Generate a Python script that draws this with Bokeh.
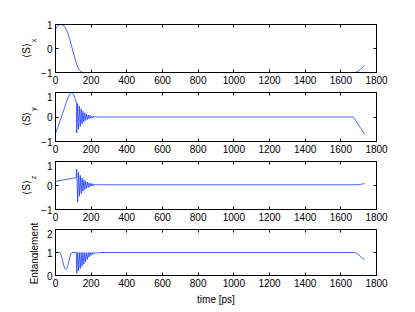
from math import pi
from bokeh.plotting import figure
from bokeh.layouts import column, row
from bokeh.models import Range1d, FixedTicker, LinearAxis
from bokeh.core.properties import value
from bokeh.embed import file_html
from bokeh.resources import INLINE

# ---------------- data ----------------
sx_t = [0, 10, 20, 30, 40, 50, 60, 70, 80, 90, 100, 110, 120, 130, 140, 150, 160, 170,
        1680, 1690, 1700, 1710, 1720, 1733]
sx_v = [0.8, 0.92, 0.98, 1.0, 0.98, 0.92, 0.8, 0.62, 0.38, 0.1, -0.18, -0.45, -0.68, -0.85,
        -0.95, -0.99, -1.0, -1.0, -1.0, -0.98, -0.93, -0.87, -0.8, -0.7]

sy_t = [0, 10, 20, 30, 40, 50, 60, 70, 80, 89, 100, 110, 117,
        119, 124, 129, 134, 139, 144, 149, 154, 159, 164, 169, 174, 179, 184, 189, 194,
        199, 204, 209, 214, 219, 224, 229, 234, 239, 244, 249, 254, 259, 264,
        1670, 1733]
sy_v = [-0.67, -0.48, -0.28, -0.07, 0.15, 0.37, 0.58, 0.78, 0.93, 1.0, 0.93, 0.75, 0.58,
        -0.65, 0.55, -0.5, 0.45, -0.38, 0.33, -0.28, 0.24, -0.2, 0.17, -0.14, 0.12, -0.1,
        0.08, -0.07, 0.06, -0.05, 0.04, -0.035, 0.03, -0.025, 0.02, -0.015, 0.012, -0.01,
        0.008, -0.006, 0.005, -0.004, 0.0,
        0.0, -0.7]

sz_t = [0, 117,
        119, 124, 129, 134, 139, 144, 149, 154, 159, 164, 169, 174, 179, 184, 189, 194,
        199, 204, 209, 214, 219, 224, 229, 234, 239, 244, 249, 254, 259, 264,
        1680, 1700, 1720, 1733]
sz_v = [0.17, 0.33,
        0.68, -0.7, 0.55, -0.45, 0.42, -0.33, 0.32, -0.24, 0.24, -0.17, 0.18, -0.12, 0.14,
        -0.08, 0.11, -0.05, 0.09, -0.02, 0.07, 0.0, 0.06, 0.01, 0.05, 0.02, 0.045, 0.025,
        0.04, 0.03, 0.035, 0.03,
        0.03, 0.04, 0.06, 0.08]

en_t = [0, 15, 24, 30, 36, 42, 48, 53, 58, 63, 68, 74, 80, 86, 93, 117,
        119, 124, 129, 134, 139, 144, 149, 154, 159, 164, 169, 174, 179, 184, 189, 194,
        199, 204, 209, 214, 219, 224, 229, 234, 239, 244, 249, 254,
        1672, 1690, 1700, 1710, 1720, 1733]
en_v = [1.0, 1.0, 1.0, 0.93, 0.78, 0.58, 0.4, 0.3, 0.26, 0.3, 0.4, 0.58, 0.78, 0.93, 1.0, 1.0,
        0.1, 1.0, 0.2, 1.0, 0.3, 1.0, 0.4, 1.0, 0.5, 1.0, 0.6, 1.0, 0.7, 1.0, 0.8, 1.0,
        0.87, 1.0, 0.92, 1.0, 0.95, 1.0, 0.97, 1.0, 0.985, 1.0, 0.995, 1.0,
        1.0, 0.96, 0.9, 0.82, 0.75, 0.71]

x_ticks = [0, 200, 400, 600, 800, 1000, 1200, 1400, 1600, 1800]
s_ticks = [-1, 0, 1]
e_ticks = [0, 1, 2]

FONT = "Liberation Sans"
LINE = "#1a3cff"
LW = 38                      # width of the y-label strip
MAIN_W = 16 + 322 + 20

# (top border, frame height, bottom border) of each panel
ROWS = [(24, 48, 20), (0, 49, 20), (0, 48, 20), (0, 48, 30)]
TOTAL_H = sum(a + b + c for a, b, c in ROWS)


def style_axis(ax, ticks, show_labels=True):
    ax.ticker = FixedTicker(ticks=ticks)
    ax.major_tick_in = 3
    ax.major_tick_out = 0
    ax.minor_tick_line_color = None
    ax.major_tick_line_color = "black"
    ax.axis_line_color = "black"
    ax.major_label_text_font = FONT
    ax.axis_label_text_font = FONT
    ax.axis_label_text_font_style = "normal"
    ax.axis_label_text_font_size = "10px"
    ax.axis_label_text_color = "black"
    if show_labels:
        ax.major_label_text_color = "black"
        ax.major_label_text_font_size = "10px"
        ax.major_label_standoff = 3
    else:
        ax.major_label_text_color = None
        ax.major_label_text_alpha = 0
        ax.major_label_text_font_size = "1px"
        ax.major_label_standoff = 0


def make_fig(t, v, yr, yticks, dims, xlabel=None):
    top, fh, bottom = dims
    p = figure(width=MAIN_W, height=top + fh + bottom, output_backend="svg",
               toolbar_location=None, x_range=Range1d(0, 1800), y_range=Range1d(*yr),
               min_border_left=16, min_border_right=20, min_border_top=top,
               min_border_bottom=bottom)
    p.grid.visible = False
    p.outline_line_color = "black"
    p.outline_line_width = 1
    p.background_fill_color = "white"
    p.border_fill_color = "white"
    style_axis(p.xaxis[0], x_ticks)
    style_axis(p.yaxis[0], yticks)
    p.yaxis[0].major_label_overrides = {-1: "\u22121"}
    if xlabel:
        p.xaxis[0].axis_label = xlabel
        p.xaxis[0].axis_label_standoff = 4
    ra = LinearAxis()
    style_axis(ra, yticks, show_labels=False)
    p.add_layout(ra, "right")
    ta = LinearAxis()
    style_axis(ta, x_ticks, show_labels=False)
    p.add_layout(ta, "above")
    p.line(t, v, line_color=LINE, line_width=0.8)
    return p


p1 = make_fig(sx_t, sx_v, (-1, 1), s_ticks, ROWS[0])
p2 = make_fig(sy_t, sy_v, (-1, 1), s_ticks, ROWS[1])
p3 = make_fig(sz_t, sz_v, (-1, 1), s_ticks, ROWS[2])
p4 = make_fig(en_t, en_v, (0, 2), e_ticks, ROWS[3], xlabel="time [ps]")

# centre of each panel frame, measured from the bottom of the whole stack
centres = []
y0 = 0
for top, fh, bottom in ROWS:
    centres.append(TOTAL_H - (y0 + top + fh / 2))
    y0 += top + fh + bottom

lf = figure(width=LW, height=TOTAL_H, output_backend="svg", toolbar_location=None,
            x_axis_location=None, y_axis_location=None, min_border=0,
            x_range=Range1d(0, LW), y_range=Range1d(0, TOTAL_H))
lf.grid.visible = False
lf.outline_line_color = None
lf.background_fill_color = "white"
lf.border_fill_color = "white"

lf.text(x=[26, 26, 26], y=[c - 2 for c in centres[:3]],
        text=["\u27e8S\u27e9"] * 3, angle=pi / 2, text_align="center",
        text_baseline="middle", text_font=value(FONT), text_font_size="10px",
        text_color="black")
lf.text(x=[32.5, 32.5, 32.5], y=[c + 8 for c in centres[:3]],
        text=["x", "y", "z"], angle=pi / 2, text_align="center",
        text_baseline="middle", text_font=value(FONT), text_font_size="7px",
        text_color="black")
lf.text(x=[33.5], y=[centres[3]], text=["Entanglement"], angle=pi / 2,
        text_align="center", text_baseline="middle", text_font=value(FONT),
        text_font_size="10px", text_color="black")

layout = row(lf, column(p1, p2, p3, p4, spacing=0), spacing=0)
open("out.html", "w").write(file_html(layout, INLINE))
